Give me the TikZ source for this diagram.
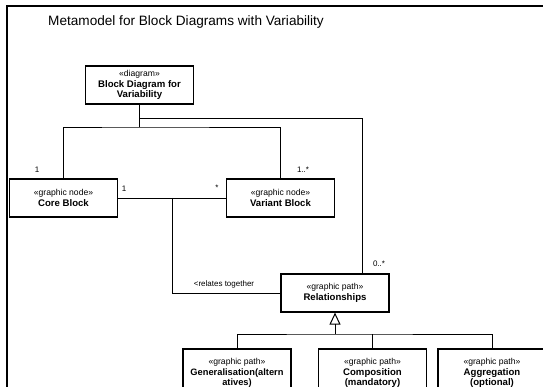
\documentclass[tikz,border=0pt]{standalone}
\usepackage{fontspec}
\setmainfont{Liberation Sans}
\usetikzlibrary{arrows.meta}

\begin{document}
\begin{tikzpicture}[x=1pt,y=-1pt,
    block/.style={draw,line width=1.2pt,minimum width=108pt,minimum height=38pt,inner sep=0pt,align=center,font=\fontsize{8.6}{10.5}\selectfont},
    mult/.style={font=\fontsize{8}{9}\selectfont,inner sep=0pt},
    conn/.style={line width=0.7pt}]
    \useasboundingbox (0,0) rectangle (543,387);
    \clip (0,0) rectangle (543,387);
    \draw[line width=2pt] (6.5,390)--(6.5,6.5)--(545,6.5);
    \node[anchor=base west,font=\fontsize{13.6}{15}\selectfont,inner sep=0pt] (title) at (48,25.5){Metamodel for Block Diagrams with Variability};

    \node[block] (diag) at (139.5,85){«diagram»\\\textbf{\fontsize{9.6}{10.5}\selectfont Block Diagram for}\\\textbf{\fontsize{9.6}{10.5}\selectfont Variability}};
    \node[block] (core) at (63.5,198){«graphic node»\\\textbf{\fontsize{9.6}{10.5}\selectfont Core Block}};
    \node[block] (variant) at (280.5,198){«graphic node»\\\textbf{\fontsize{9.6}{10.5}\selectfont Variant Block}};
    \node[block] (rel) at (335,293){«graphic path»\\\textbf{\fontsize{9.6}{10.5}\selectfont Relationships}};
    \node[block,minimum height=48pt] (gen) at (237,373){«graphic path»\\\textbf{\fontsize{9.3}{11}\selectfont Generalisation(altern}\\\textbf{\fontsize{9.3}{11}\selectfont atives)}};
    \node[block,minimum height=48pt] (comp) at (372.5,373){«graphic path»\\\textbf{\fontsize{9.6}{11}\selectfont Composition}\\\textbf{\fontsize{9.6}{11}\selectfont (mandatory)}};
    \node[block,minimum height=48pt] (agg) at (492,373){«graphic path»\\\textbf{\fontsize{9.6}{11}\selectfont Aggregation}\\\textbf{\fontsize{9.6}{11}\selectfont (optional)}};

    \coordinate (split) at (139.5,127);
    \coordinate (tap) at (139.5,118);
    \coordinate (assoc) at (172,198);
    \coordinate (gbar) at (335,334);

    \draw[conn] (diag.south)--(split);
    \draw[conn] (core.north)|-(split)-|(variant.north);
    \draw[conn] (tap)-|([xshift=27pt]rel.north);
    \draw[conn] (core.east)--(variant.west);
    \draw[conn] (assoc)|-(rel.west);
    \draw[conn] (gen.north)|-(gbar)-|(agg.north);
    \draw[conn] (comp.north)--(comp.north|-gbar);
    \draw[conn,-{Triangle[open,length=12pt,width=11pt,line width=1pt]}] (gbar)--(rel.south);

    \node[mult] (mcore) at (37,170){1};
    \node[mult] (massoc) at (124,189){1};
    \node[mult] (mstar) at (217,188){*};
    \node[mult] (mvar) at (303,170){1..*};
    \node[mult] (mrel) at (379,264){0..*};
    \node[mult] (relates) at (224,284){<relates together};
\end{tikzpicture}
\end{document}
